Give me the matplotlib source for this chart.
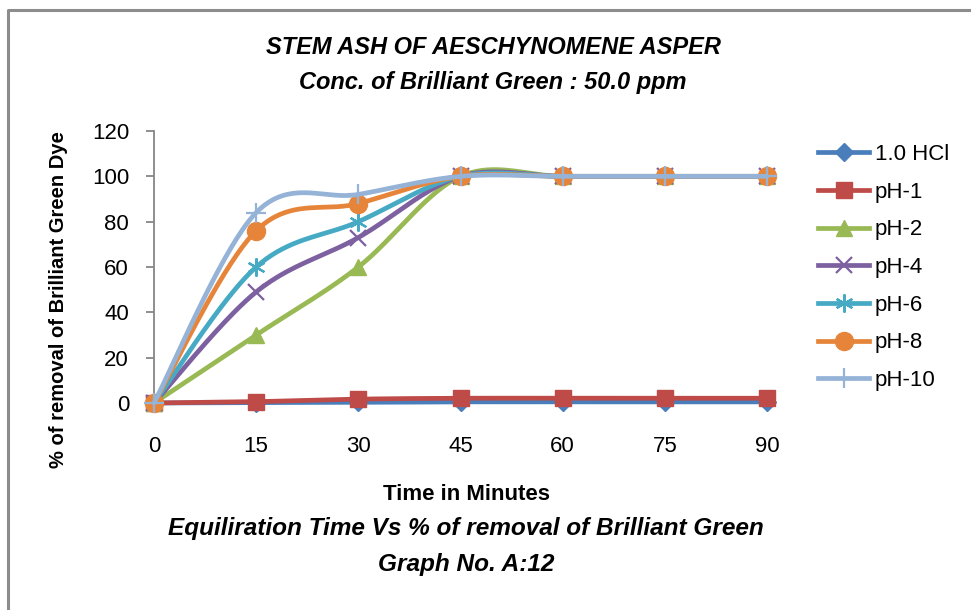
import numpy as np
import matplotlib
matplotlib.use("Agg")
import matplotlib.pyplot as plt
from matplotlib import font_manager
from matplotlib.lines import Line2D

# ---- data ----
time_min = [0, 15, 30, 45, 60, 75, 90]
series_names = ["1.0 HCl", "pH-1", "pH-2", "pH-4", "pH-6", "pH-8", "pH-10"]
hcl = [0, 0.2, 0.3, 0.5, 0.5, 0.5, 0.5]
ph1 = [0, 0.6, 1.7, 2.1, 2.1, 2.1, 2.1]
ph2 = [0, 30, 60, 100, 100, 100, 100]
ph4 = [0, 49, 73, 100, 100, 100, 100]
ph6 = [0, 60, 80, 100, 100, 100, 100]
ph8 = [0, 76, 88, 100, 100, 100, 100]
ph10 = [0, 84, 92, 100, 100, 100, 100]
y_ticks = [0, 20, 40, 60, 80, 100, 120]

series_values = [hcl, ph1, ph2, ph4, ph6, ph8, ph10]
colors = ["#4A7EBB", "#BE4B48", "#98B954", "#7D60A0", "#46AAC5", "#E6853A", "#95B3D7"]
markers = ["D", "s", "^", "x", (6, 2, 0), "o", "+"]
msizes = [9, 12, 12, 12, 13, 13, 14]

base = "Liberation Sans"

def smooth(x, y, n=40):
    P = np.column_stack([x, y]).astype(float)
    out = []
    for i in range(len(P) - 1):
        p0 = P[i - 1] if i > 0 else P[i]
        p1 = P[i]
        p2 = P[i + 1]
        p3 = P[i + 2] if i + 2 < len(P) else P[i + 1]
        c1 = p1 + (p2 - p0) / 6.0
        c2 = p2 - (p3 - p1) / 6.0
        t = np.linspace(0, 1, n)[:, None]
        b = ((1 - t) ** 3) * p1 + 3 * ((1 - t) ** 2) * t * c1 + 3 * (1 - t) * t ** 2 * c2 + t ** 3 * p2
        out.append(b if i == 0 else b[1:])
    B = np.vstack(out)
    return B[:, 0], B[:, 1]

W, H = 971, 610
fig = plt.figure(figsize=(W / 100, H / 100), dpi=100)

def fx(px):
    return px / W

def fy(py):
    return 1 - py / H

# border
fig.add_artist(Line2D([fx(8), fx(8), fx(971)], [fy(610), fy(10), fy(10)], color="#8C8C8C", lw=2.2))

ax_l, ax_r, ax_t, ax_b = 154, 767, 131, 403
ax = fig.add_axes([fx(ax_l), fy(ax_b), fx(ax_r - ax_l), fy(ax_t) - fy(ax_b)])
ax.set_xlim(0, 90)
ax.set_ylim(0, 120)
for s in ["top", "right", "bottom"]:
    ax.spines[s].set_visible(False)
ax.spines["left"].set_color("#868686")
ax.spines["left"].set_linewidth(1.3)
ax.set_yticks(y_ticks)
ax.set_xticks(time_min)
ax.tick_params(axis="y", direction="out", length=6, width=1.3, color="#868686", pad=12,
               labelsize=16)
ax.tick_params(axis="x", length=0, pad=24, labelsize=16)
for lab in ax.get_xticklabels() + ax.get_yticklabels():
    lab.set_fontfamily(base)

for i, (name, vals) in enumerate(zip(series_names, series_values)):
    sx, sy = smooth(time_min, vals)
    ax.plot(sx, sy, color=colors[i], lw=3.4, solid_capstyle="round", zorder=3 + i, clip_on=False)
    m = markers[i]
    filled = m not in ("x", "+") and not isinstance(m, tuple)
    ax.plot(time_min, vals, linestyle="none", marker=m, ms=msizes[i],
            mfc=colors[i] if filled else "none", mec=colors[i],
            mew=1.0 if filled else 1.6, zorder=3 + i, clip_on=False)

# legend
handles = []
for i, name in enumerate(series_names):
    m = markers[i]
    filled = m not in ("x", "+") and not isinstance(m, tuple)
    handles.append(Line2D([0], [0], color=colors[i], lw=3.4, marker=m, ms=msizes[i],
                          mfc=colors[i] if filled else "none", mec=colors[i],
                          mew=1.0 if filled else 1.6))
leg = fig.legend(handles, series_names, loc="upper left", bbox_to_anchor=(fx(818), fy(144)),
                 frameon=False, handlelength=2.3, handletextpad=0.25, labelspacing=0.75,
                 prop={"family": base, "size": 16}, borderaxespad=0, borderpad=0)

# titles
tsize = 17
fig.text(fx(493), fy(47), "STEM ASH OF AESCHYNOMENE ASPER", ha="center", va="center",
         family=base, weight="bold", style="italic", size=tsize)
fig.text(fx(493), fy(83), "Conc. of Brilliant Green : 50.0 ppm", ha="center", va="center",
         family=base, weight="bold", style="italic", size=tsize)

fig.text(fx(466), fy(495), "Time in Minutes", ha="center", va="center",
         family=base, weight="bold", size=16)
fig.text(fx(466), fy(529), "Equiliration Time Vs % of removal of Brilliant Green", ha="center", va="center",
         family=base, weight="bold", style="italic", size=17.6)
fig.text(fx(466), fy(565), "Graph No. A:12", ha="center", va="center",
         family=base, weight="bold", style="italic", size=17.6)

fig.text(fx(58), fy(300), "% of removal of Brilliant Green Dye", ha="center", va="center",
         rotation=90, family=base, weight="bold", size=14.5)

fig.savefig("out.png", dpi=100)
